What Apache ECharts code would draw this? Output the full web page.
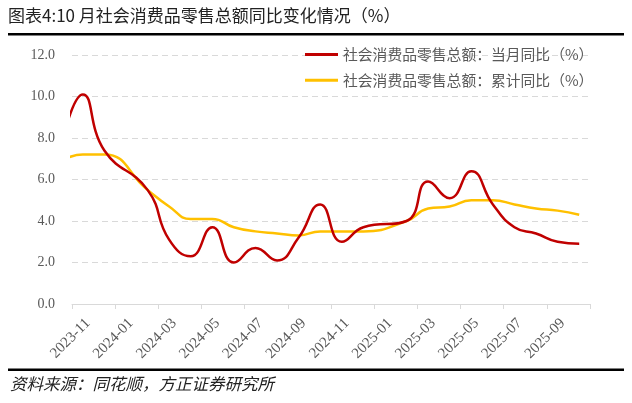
<!DOCTYPE html>
<html>
<head>
<meta charset="utf-8">
<script src="https://cdn.jsdelivr.net/npm/echarts@6/dist/echarts.min.js"></script>
<style>
html,body{margin:0;padding:0;background:#fff;}
#c{width:632px;height:403px;}
</style>
</head>
<body>
<div id="c"></div>
<script>
const months = ['2023-10','2023-11','2023-12','2024-02','2024-03','2024-04','2024-05','2024-06','2024-07','2024-08','2024-09','2024-10','2024-11','2024-12','2025-02','2025-03','2025-04','2025-05','2025-06','2025-07','2025-08','2025-09','2025-10'];
const monthlyYoY = [7.6,10.1,7.4,5.5,3.1,2.3,3.7,2.0,2.7,2.1,3.2,4.8,3.0,3.7,4.0,5.9,5.1,6.4,4.8,3.7,3.4,3.0,2.9];
const cumulativeYoY = [6.9,7.2,7.2,5.5,4.7,4.1,4.1,3.7,3.5,3.4,3.3,3.5,3.5,3.5,4.0,4.6,4.7,5.0,5.0,4.8,4.6,4.5,4.3];
const tickLabels = ['2023-11','2024-01','2024-03','2024-05','2024-07','2024-09','2024-11','2025-01','2025-03','2025-05','2025-07','2025-09'];
const yTicks = [0,2,4,6,8,10,12];
const seriesNames = ['社会消费品零售总额：当月同比（%）','社会消费品零售总额：累计同比（%）'];
const titleText = '图表4:10 月社会消费品零售总额同比变化情况（%）';
const sourceText = '资料来源：同花顺，方正证券研究所';

// month string -> axis value (months since 2023-11, centered in month)
function monthPos(m){
  const [y, mo] = m.split('-').map(Number);
  return (y - 2023) * 12 + (mo - 11) + 0.5;
}
const toData = vals => months.map((m,i)=>[monthPos(m), vals[i]]);

const chart = echarts.init(document.getElementById('c'), null, {renderer:'canvas'});
const serif = '"Liberation Serif","Times New Roman",serif';
const cjk = '"Noto Sans CJK SC","Noto Sans",sans-serif';

chart.setOption({
  animation:false,
  backgroundColor:'#fff',
  grid:{left:72,right:42,top:55,bottom:99,containLabel:false},
  legend:{
    orient:'vertical',
    left:305, top:47, padding:0,
    itemWidth:33, itemHeight:3, itemGap:11,
    icon:'rect',
    textStyle:{fontFamily:cjk,fontSize:14.8,color:'#595959'},
    data:seriesNames
  },
  xAxis:{
    type:'value', min:0, max:24, interval:2,
    axisLine:{show:true,lineStyle:{color:'#d9d9d9',width:1}},
    axisTick:{show:true,length:5,lineStyle:{color:'#d9d9d9'}},
    splitLine:{show:false},
    axisLabel:{
      rotate:45, margin:1, verticalAlign:'top', align:'right', padding:[15,0,0,0],
      fontFamily:serif, fontSize:15, color:'#595959',
      formatter:v=>tickLabels[Math.round(v/2)] || ''
    }
  },
  yAxis:{
    type:'value', min:yTicks[0], max:yTicks[yTicks.length-1], interval:2,
    axisLine:{show:false}, axisTick:{show:false},
    splitLine:{show:true,lineStyle:{color:'#d9d9d9',type:[6,4],width:1}},
    axisLabel:{margin:17,fontFamily:serif,fontSize:14,color:'#595959',formatter:v=>v.toFixed(1)}
  },
  series:[
    {name:seriesNames[0],type:'line',data:toData(monthlyYoY),smooth:0.5,showSymbol:false,clip:true,
     itemStyle:{color:'#C00000'},lineStyle:{color:'#C00000',width:2.5},z:3},
    {name:seriesNames[1],type:'line',data:toData(cumulativeYoY),smooth:0.5,showSymbol:false,clip:true,
     itemStyle:{color:'#FFC000'},lineStyle:{color:'#FFC000',width:2.5},z:2}
  ],
  graphic:[
    {type:'text',left:8,top:7,style:{text:titleText,fontFamily:cjk,fontSize:17,fill:'#222'}},
    {type:'rect',shape:{x:8,y:33,width:616,height:2.5},style:{fill:'#000'}},
    {type:'rect',shape:{x:8,y:368.5,width:616,height:2.5},style:{fill:'#000'}},
    {type:'text',left:10,top:375,style:{text:sourceText,fontFamily:cjk,fontSize:16.5,fontStyle:'italic',fill:'#222'}}
  ]
});
</script>
</body>
</html>
